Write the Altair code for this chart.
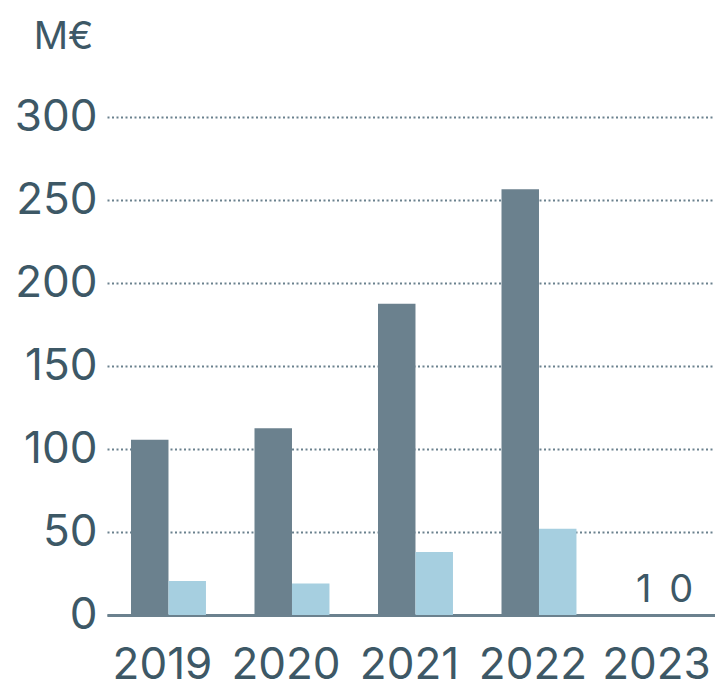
import altair as alt
import pandas as pd

years = ["2019", "2020", "2021", "2022", "2023"]
series_a = [105.5, 112.5, 187.5, 256.5, 0.6]
series_b = [20.5, 19, 38, 52, 0]
labels_2023 = ["1", "0"]

rows = []
for i, y in enumerate(years):
    rows.append({"year": y, "series": "A", "value": series_a[i]})
    rows.append({"year": y, "series": "B", "value": series_b[i]})
df = pd.DataFrame(rows)
lab = pd.DataFrame({"year": ["2023", "2023"], "series": ["A", "B"],
                    "value": [0, 0], "label": labels_2023})

FONT = "Inter"
TXT = "#3d5866"
DARK = "#6b818e"
LIGHT = "#a6cfe0"

xscale = alt.Scale(paddingInner=0.393, paddingOuter=0.158, align=0.615)

xenc = alt.X("year:N", sort=years, scale=xscale,
             axis=alt.Axis(title=None, labelAngle=0, labelFont=FONT, labelFontSize=44,
                           labelColor=TXT, ticks=False, domain=True, domainColor=DARK,
                           domainWidth=3, labelPadding=28, labelOffset=-6, grid=False))

yscale = alt.Scale(domain=[0, 300], nice=False)

bars = alt.Chart(df).mark_bar().encode(
    x=xenc,
    xOffset=alt.XOffset("series:N", scale=alt.Scale(paddingInner=0, paddingOuter=0)),
    y=alt.Y("value:Q", scale=yscale,
            axis=alt.Axis(values=[0, 50, 100, 150, 200, 250, 300], title="M€",
                          titleAngle=0, titleX=-44, titleY=-69, titleAlign="center",
                          titleBaseline="alphabetic", titleFont=FONT, titleFontSize=38,
                          titleFontWeight="normal", titleColor=TXT,
                          labelFont=FONT, labelFontSize=44, labelColor=TXT,
                          labelPadding=10, ticks=False, domain=False,
                          grid=True, gridColor=DARK, gridDash=[2, 2.5], gridWidth=2)),
    color=alt.Color("series:N", scale=alt.Scale(domain=["A", "B"], range=[DARK, LIGHT]),
                    legend=None),
)

texts = alt.Chart(lab).mark_text(font=FONT, fontSize=38, color=TXT, baseline="bottom",
                                 dy=-5).encode(
    x=alt.X("year:N", sort=years),
    xOffset=alt.XOffset("series:N"),
    y=alt.Y("value:Q", scale=yscale),
    text="label:N",
)

chart = alt.layer(bars, texts).properties(
    width=608, height=498,
    autosize=alt.AutoSizeParams(type="none"),
    padding={"left": 99, "top": 109, "right": 0, "bottom": 65},
).configure_view(stroke=None).configure_axisY(gridOpacity=1)

chart.save("out.html", embed_options={"renderer": "svg", "actions": False})
